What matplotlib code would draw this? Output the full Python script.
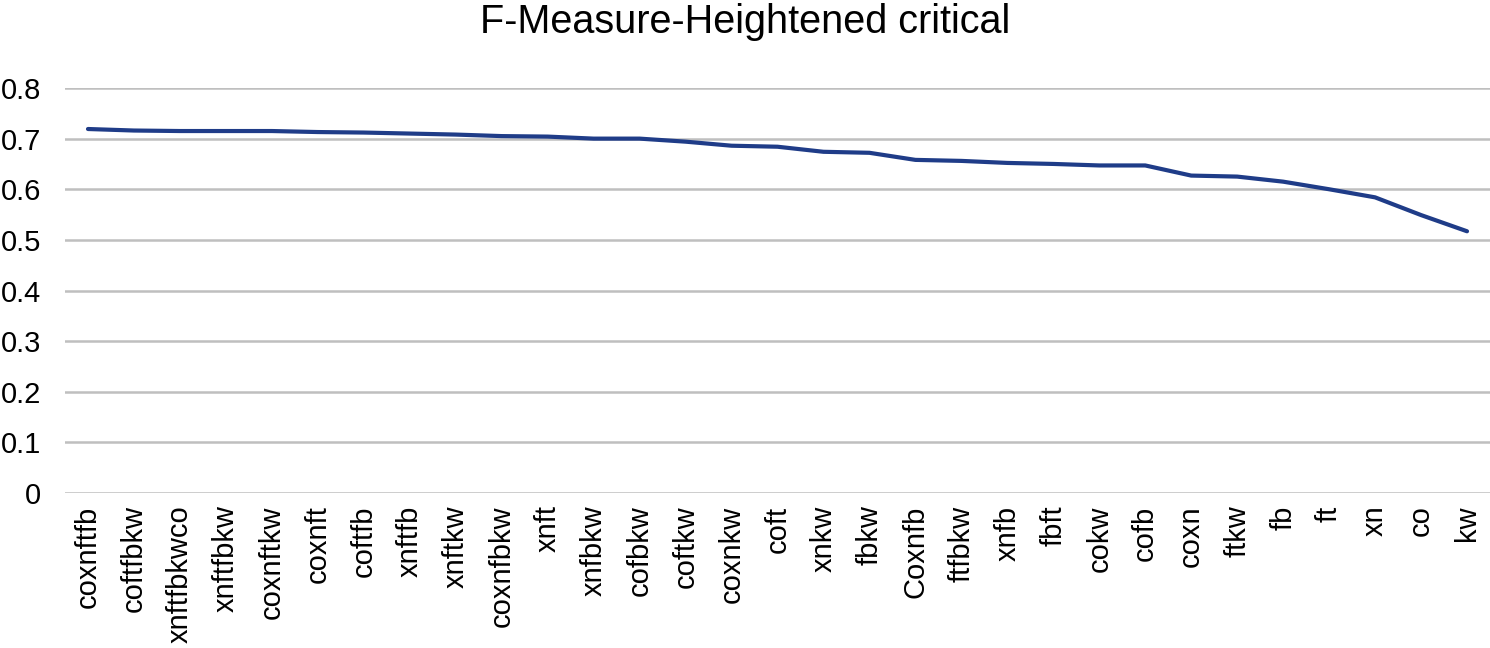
import matplotlib
matplotlib.use("Agg")
import matplotlib.pyplot as plt

categories = ["coxnftfb", "coftfbkw", "xnftfbkwco", "xnftfbkw", "coxnftkw", "coxnft",
              "coftfb", "xnftfb", "xnftkw", "coxnfbkw", "xnft", "xnfbkw", "cofbkw",
              "coftkw", "coxnkw", "coft", "xnkw", "fbkw", "Coxnfb", "ftfbkw", "xnfb",
              "fbft", "cokw", "cofb", "coxn", "ftkw", "fb", "ft", "xn", "co", "kw"]
values = [0.719, 0.716, 0.715, 0.715, 0.715, 0.713, 0.712, 0.710, 0.708, 0.705,
          0.704, 0.700, 0.700, 0.694, 0.686, 0.684, 0.674, 0.672, 0.658, 0.656,
          0.652, 0.650, 0.647, 0.647, 0.627, 0.625, 0.615, 0.600, 0.584, 0.549, 0.517]
yticks = [0, 0.1, 0.2, 0.3, 0.4, 0.5, 0.6, 0.7, 0.8]

plt.rcParams['font.family'] = ['Liberation Sans', 'DejaVu Sans']

fig = plt.figure(figsize=(14.9, 6.48), dpi=100)
ax = fig.add_axes([65/1490, 1 - 493/648, (1490 - 65) / 1490, (493 - 88) / 648])

x = list(range(len(categories)))
ax.plot(x, values, color='#1f3c88', linewidth=3, solid_capstyle='round', zorder=3)

ax.set_xlim(-0.5, len(categories) - 0.5)
ax.set_ylim(0, 0.8)
ax.set_yticks(yticks)
ax.set_yticklabels([f"{v:g}" for v in yticks], fontsize=21)
ax.set_xticks(x)
ax.set_xticklabels(categories, rotation=90, fontsize=21)
ax.tick_params(axis='x', length=0, pad=9)
ax.tick_params(axis='y', length=0, pad=17)
ax.grid(axis='y', color='#bfbfbf', linewidth=1.8, zorder=0)
for s in ax.spines.values():
    s.set_visible(False)
ax.set_axisbelow(True)

fig.text(0.5, 1 - 22/648, "F-Measure-Heightened critical", ha='center', va='center', fontsize=28.5)

fig.savefig("out.png", dpi=100)
